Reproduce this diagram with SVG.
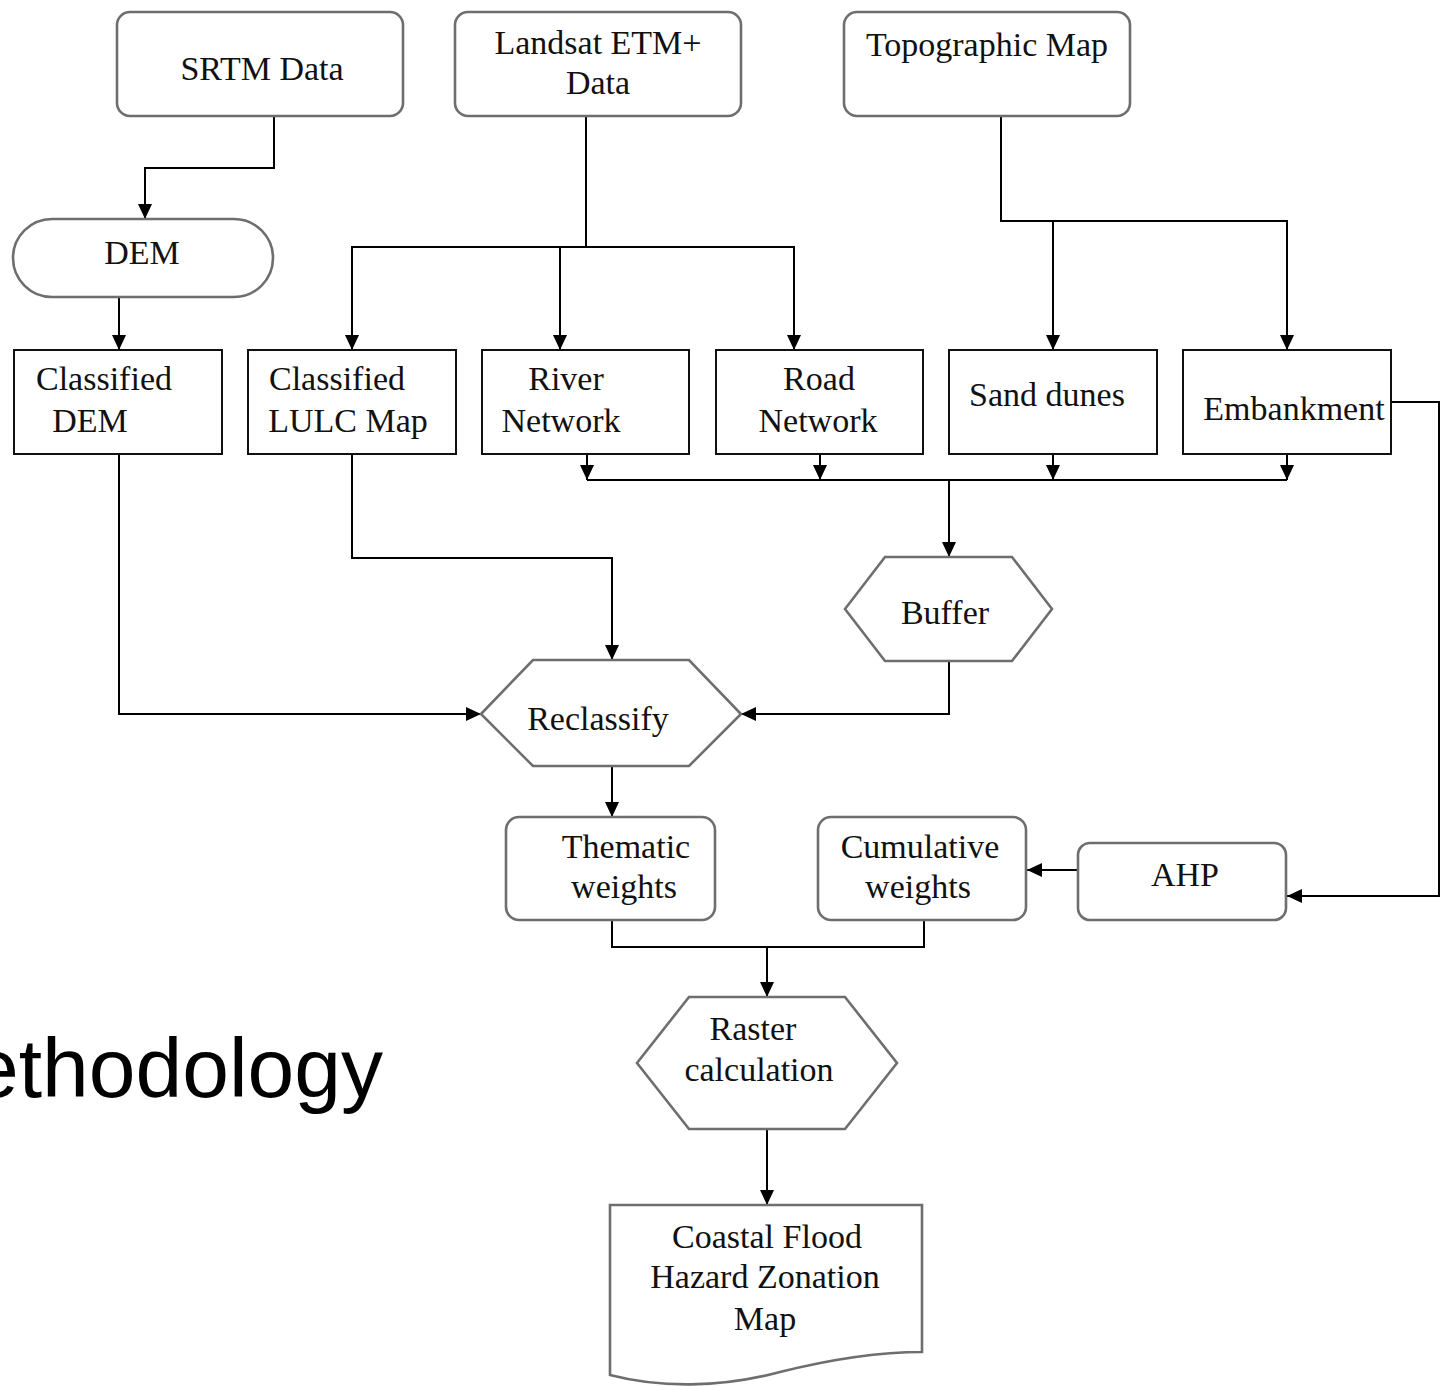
<svg xmlns="http://www.w3.org/2000/svg" width="1441" height="1386" viewBox="0 0 1441 1386">
<defs>
<marker id="arr" markerUnits="userSpaceOnUse" markerWidth="16" markerHeight="16" viewBox="0 0 16 14" refX="15" refY="7" orient="auto">
<path d="M0,0 L15,7 L0,14 z" fill="#000"/>
</marker>
<style>
.gr{fill:#fff;stroke:#6e6e6e;stroke-width:2.6}
.bx{fill:#fff;stroke:#111;stroke-width:2}
.t{font-family:"Liberation Serif","Times New Roman",serif;font-size:34px;fill:#111;text-anchor:middle}
.c{fill:none;stroke:#000;stroke-width:2}
.a{marker-end:url(#arr)}
</style>
</defs>
<rect width="1441" height="1386" fill="#fff"/>
<g id="connectors">
<path class="c a" d="M274,116 V168 H145 V219"/>
<path class="c a" d="M119,297 V350"/>
<path class="c a" d="M586,116 V247 H352 V350"/>
<path class="c a" d="M560,247 V350"/>
<path class="c a" d="M586,247 H794 V350"/>
<path class="c a" d="M1001,116 V221 H1287 V350"/>
<path class="c a" d="M1053,221 V350"/>
<path class="c a" d="M587,454 V480"/>
<path class="c a" d="M820,454 V480"/>
<path class="c a" d="M1053,454 V480"/>
<path class="c a" d="M1287,454 V480"/>
<path class="c" d="M587,480 H1287"/>
<path class="c a" d="M949,480 V557"/>
<path class="c a" d="M1391,402 H1439 V896 H1287"/>
<path class="c a" d="M119,454 V714 H481"/>
<path class="c a" d="M352,454 V558 H612 V660"/>
<path class="c a" d="M949,661 V714 H741"/>
<path class="c a" d="M612,766 V817"/>
<path class="c a" d="M1078,870 H1027"/>
<path class="c" d="M612,920 V947 H924 V920"/>
<path class="c a" d="M767,947 V997"/>
<path class="c a" d="M767,1129 V1205"/>
</g>
<g id="srtm"><rect class="gr" x="117" y="12" width="286" height="104" rx="13"/><text class="t" x="262" y="80">SRTM Data</text></g>
<g id="landsat"><rect class="gr" x="455" y="12" width="286" height="104" rx="13"/><text class="t" x="598" y="54">Landsat ETM+</text><text class="t" x="598" y="94">Data</text></g>
<g id="topo"><rect class="gr" x="844" y="12" width="286" height="104" rx="13"/><text class="t" x="987" y="56">Topographic Map</text></g>
<g id="dem"><rect class="gr" x="13" y="219" width="260" height="78" rx="39"/><text class="t" x="142" y="264">DEM</text></g>
<g id="classified-dem"><rect class="bx" x="14" y="350" width="208" height="104"/><text class="t" x="104" y="390">Classified</text><text class="t" x="90" y="432">DEM</text></g>
<g id="lulc"><rect class="bx" x="248" y="350" width="208" height="104"/><text class="t" x="337" y="390">Classified</text><text class="t" x="348" y="432">LULC Map</text></g>
<g id="river"><rect class="bx" x="482" y="350" width="207" height="104"/><text class="t" x="566" y="390">River</text><text class="t" x="561" y="432">Network</text></g>
<g id="road"><rect class="bx" x="716" y="350" width="207" height="104"/><text class="t" x="819" y="390">Road</text><text class="t" x="818" y="432">Network</text></g>
<g id="sand"><rect class="bx" x="949" y="350" width="208" height="104"/><text class="t" x="1047" y="406">Sand dunes</text></g>
<g id="embankment"><rect class="bx" x="1183" y="350" width="208" height="104"/><text class="t" x="1294" y="420">Embankment</text></g>
<g id="buffer"><polygon class="gr" points="845,609 885,557 1012,557 1052,609 1012,661 885,661"/><text class="t" x="945" y="624">Buffer</text></g>
<g id="reclassify"><polygon class="gr" points="481,714 533,660 689,660 741,714 689,766 533,766"/><text class="t" x="598" y="730">Reclassify</text></g>
<g id="thematic"><rect class="gr" x="506" y="817" width="209" height="103" rx="13"/><text class="t" x="626" y="858">Thematic</text><text class="t" x="624" y="898">weights</text></g>
<g id="cumulative"><rect class="gr" x="818" y="817" width="208" height="103" rx="13"/><text class="t" x="920" y="858">Cumulative</text><text class="t" x="918" y="898">weights</text></g>
<g id="ahp"><rect class="gr" x="1078" y="843" width="208" height="77" rx="12"/><text class="t" x="1185" y="886">AHP</text></g>
<g id="raster"><polygon class="gr" points="637,1063 689,997 845,997 897,1063 845,1129 689,1129"/><text class="t" x="753" y="1040">Raster</text><text class="t" x="759" y="1081">calculation</text></g>
<g id="output"><path class="gr" d="M610,1205 H922 V1352 C870,1352 820,1362 780,1372 C720,1388 660,1388 610,1375 Z"/><text class="t" x="767" y="1248">Coastal Flood</text><text class="t" x="765" y="1288">Hazard Zonation</text><text class="t" x="765" y="1330">Map</text></g>
<text x="-28" y="1097" style="font-family:'Liberation Sans',Arial,sans-serif;font-size:84px;fill:#000">ethodology</text>
</svg>
